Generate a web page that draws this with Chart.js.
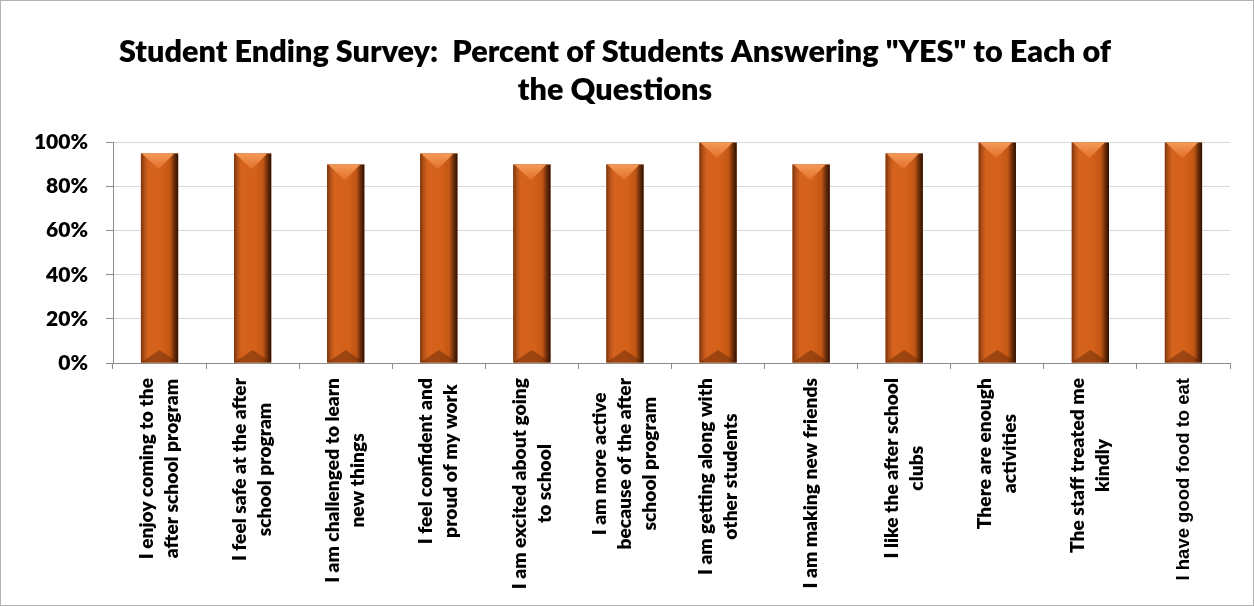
<!DOCTYPE html>
<html>
<head>
<meta charset="utf-8">
<script src="https://cdn.jsdelivr.net/npm/chart.js@4"></script>
<style>
  html, body { margin: 0; padding: 0; background: #fff; }
  #wrap { width: 1254px; height: 606px; position: relative; }
</style>
</head>
<body>
<div id="wrap"><canvas id="chart"></canvas></div>
<script>
// Data
const titleLines = ['Student Ending Survey:  Percent of Students Answering "YES" to Each of', 'the Questions'];
const categories = [
    ['I enjoy coming to the', 'after school program'],
    ['I feel safe at the after', 'school program'],
    ['I am challenged to learn', 'new things'],
    ['I feel confident and', 'proud of my work'],
    ['I am excited about going', 'to school'],
    ['I am more active', 'because of the after', 'school program'],
    ['I am getting along with', 'other students'],
    ['I am making new friends'],
    ['I like the after school', 'clubs'],
    ['There are enough', 'activities'],
    ['The staff treated me', 'kindly'],
    ['I have good food to eat']
];
const yesPercent = [95, 95, 90, 95, 90, 90, 100, 90, 95, 100, 100, 100];
const yTickLabels = ['0%', '20%', '40%', '60%', '80%', '100%'];

const axisColor = '#8c8c8c';
const gridColor = '#d9d9d9';

// Draws the rotated category labels, each line centred on the others
const categoryLabels = {
    id: 'categoryLabels',
    afterDraw(chart) {
        const ctx = chart.ctx;
        const xScale = chart.scales.x;
        const top = xScale.top + 15;
        const lineHeight = 25;
        ctx.save();
        ctx.fillStyle = '#000';
        ctx.textBaseline = 'middle';
        ctx.textAlign = 'center';
        categories.forEach((lines, i) => {
            // the last label is set in an Arial-like face in the original
            ctx.font = i === categories.length - 1 ? 'bold 18.5px "Liberation Sans"' : '800 19.2px Lato';
            const maxW = Math.max(...lines.map(l => ctx.measureText(l).width));
            const x = xScale.getPixelForValue(i);
            ctx.save();
            ctx.translate(x, top + maxW / 2);
            ctx.rotate(-Math.PI / 2);
            lines.forEach((line, j) => {
                ctx.fillText(line, 0, (j - (lines.length - 1) / 2) * lineHeight);
            });
            ctx.restore();
        });
        ctx.restore();
    }
};

// Bevel shading on top of the flat bars
const barBevel = {
    id: 'barBevel',
    afterDatasetsDraw(chart) {
        const ctx = chart.ctx;
        chart.getDatasetMeta(0).data.forEach(bar => {
            const { x, y, base, width } = bar.getProps(['x', 'y', 'base', 'width'], true);
            const l = x - width / 2, r = x + width / 2;
            const h = base - y;
            const d = Math.min(width * 0.42, h / 2);

            const g = ctx.createLinearGradient(l, 0, r, 0);
            g.addColorStop(0, '#7c340d');
            g.addColorStop(0.1, '#b5521a');
            g.addColorStop(0.2, '#d6631d');
            g.addColorStop(0.55, '#d4611a');
            g.addColorStop(0.78, '#c25715');
            g.addColorStop(0.9, '#6a2d0a');
            g.addColorStop(1, '#2a1003');
            ctx.save();
            ctx.fillStyle = g;
            ctx.fillRect(l, y, width, h);

            // top bevel
            const gt = ctx.createLinearGradient(0, y, 0, y + d);
            gt.addColorStop(0, '#f59a58');
            gt.addColorStop(1, '#e06f28');
            ctx.fillStyle = gt;
            ctx.beginPath();
            ctx.moveTo(l + 1, y);
            ctx.lineTo(r - 4, y);
            ctx.lineTo(x - 1, y + d);
            ctx.closePath();
            ctx.fill();

            // bottom bevel
            ctx.fillStyle = 'rgba(90, 35, 5, 0.45)';
            ctx.beginPath();
            ctx.moveTo(l, base);
            ctx.lineTo(r, base);
            ctx.lineTo(x, base - d * 0.8);
            ctx.closePath();
            ctx.fill();
            ctx.restore();
        });
    }
};

// Thin frame round the whole chart
const frame = {
    id: 'frame',
    afterDraw(chart) {
        const ctx = chart.ctx;
        ctx.save();
        ctx.strokeStyle = '#b3b3b3';
        ctx.lineWidth = 1;
        ctx.strokeRect(0.5, 0.5, chart.width - 1, chart.height - 1);
        ctx.restore();
    }
};

new Chart(document.getElementById('chart'), {
    type: 'bar',
    data: {
        labels: categories.map(c => c.join(' ')),
        datasets: [{
            data: yesPercent,
            backgroundColor: '#d2601a',
            borderWidth: 0,
            barPercentage: 0.4,
            categoryPercentage: 1
        }]
    },
    options: {
        responsive: true,
        maintainAspectRatio: false,
        animation: false,
        layout: { padding: { left: 0, right: 24, top: 0, bottom: 0 } },
        plugins: {
            legend: { display: false },
            tooltip: { enabled: false },
            title: {
                display: true,
                text: titleLines,
                color: '#000',
                font: { family: 'Lato', size: 30.6, weight: 800, lineHeight: 1.25 },
                padding: { top: 33, bottom: 33 }
            }
        },
        scales: {
            x: {
                ticks: { display: false },
                grid: {
                    offset: true,
                    drawOnChartArea: false,
                    color: axisColor,
                    tickLength: 6
                },
                border: { color: axisColor },
                afterFit(scale) { scale.height = 243; }
            },
            y: {
                min: 0,
                max: 100,
                ticks: {
                    stepSize: 20,
                    color: '#000',
                    padding: 18,
                    font: { family: 'Lato', size: 21, weight: 800 },
                    callback: (v, i) => yTickLabels[i]
                },
                grid: {
                    color: gridColor,
                    tickColor: axisColor,
                    tickLength: 7
                },
                border: { color: axisColor },
                afterFit(scale) { scale.width = 113; }
            }
        }
    },
    plugins: [barBevel, categoryLabels, frame]
});
</script>
</body>
</html>
